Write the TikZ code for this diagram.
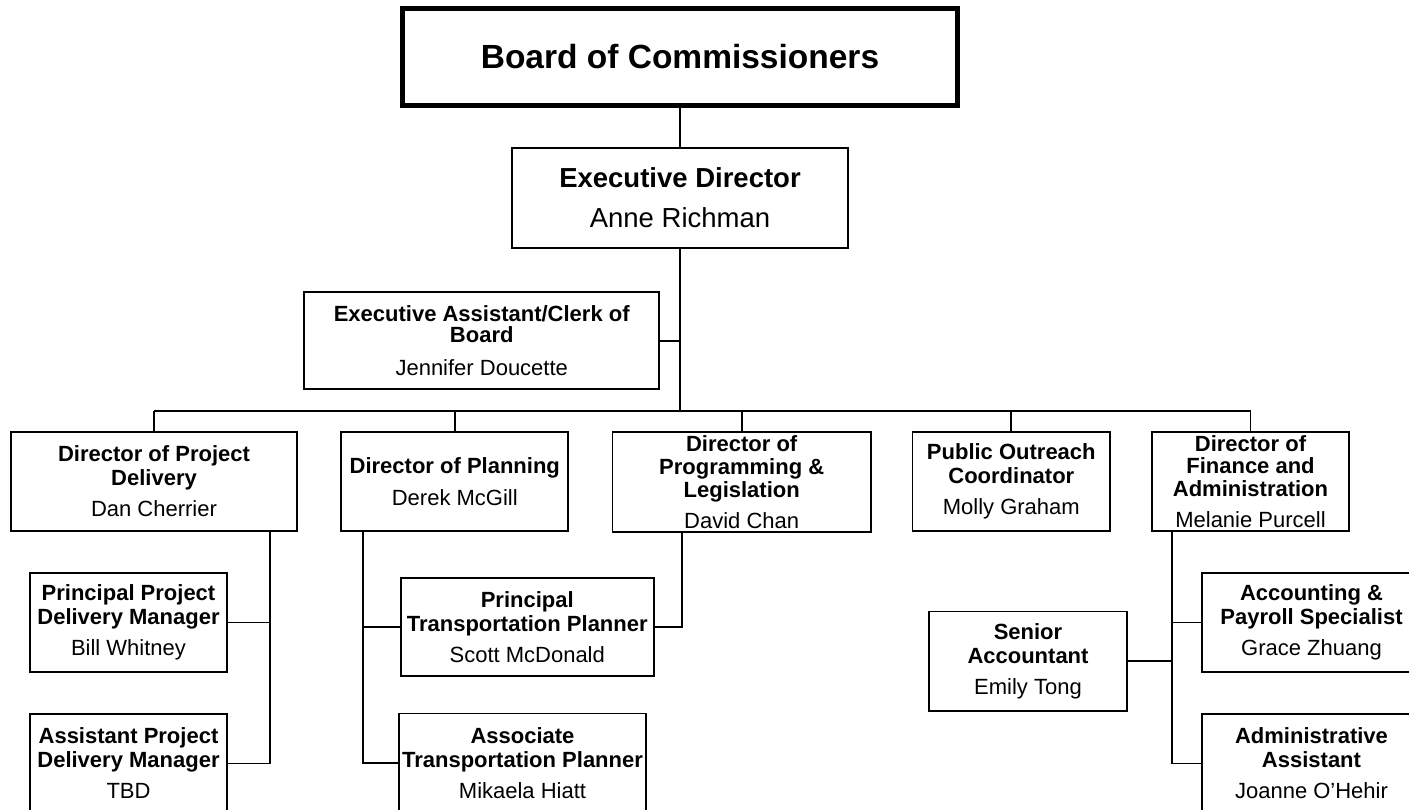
\documentclass[tikz,border=0pt]{standalone}
\usepackage{fontspec}
\setmainfont{Liberation Sans}
\begin{document}
\begin{tikzpicture}[x=1pt,y=-1pt,
  box/.style={draw=black, line width=1.8pt, rectangle, inner sep=0pt, align=center,
    font=\fontsize{22}{24}\selectfont},
  conn/.style={draw=black, line width=1.8pt}]
\fill[white] (0,0) rectangle (1409,810);
\useasboundingbox (0,0) rectangle (1409,810);

% top level
\node[box, line width=5pt, minimum width=555pt, minimum height=97pt,
  font=\fontsize{33.5}{36}\selectfont] (board) at (680,57) {\textbf{Board of Commissioners}};
\node[box, minimum width=336pt, minimum height=100pt,
  font=\fontsize{27.5}{30}\selectfont] (ed) at (680,198) {\textbf{Executive Director}\\[10pt]Anne Richman};
\node[box, minimum width=355pt, minimum height=97pt,
  font=\fontsize{22}{21}\selectfont] (ea) at (481.75,340.85) {\textbf{Executive Assistant/Clerk of}\\\textbf{Board}\\[12pt]Jennifer Doucette};

% directors
\node[box, minimum width=286.5pt, minimum height=99.5pt] (dpd) at (154,481.5)
  {\textbf{Director of Project}\\\textbf{Delivery}\\[7pt]Dan Cherrier};
\node[box, minimum width=227pt, minimum height=99.5pt] (dpl) at (454.8,481.5)
  {\textbf{Director of Planning}\\[8.5pt]Derek McGill};
\node[box, minimum width=258.5pt, minimum height=100.5pt,
  font=\fontsize{22}{22.8}\selectfont] (dpr) at (741.7,482)
  {\textbf{Director of}\\\textbf{Programming \&}\\\textbf{Legislation}\\[8pt]David Chan};
\node[box, minimum width=197.5pt, minimum height=99.5pt] (poc) at (1011.3,481.5)
  {\textbf{Public Outreach}\\\textbf{Coordinator}\\[7pt]Molly Graham};
\node[box, minimum width=197.5pt, minimum height=99.5pt,
  font=\fontsize{22}{22.8}\selectfont] (dfa) at (1250.5,481.5)
  {\textbf{Director of}\\\textbf{Finance and}\\\textbf{Administration}\\[8pt]Melanie Purcell};

% staff
\node[box, minimum width=197.5pt, minimum height=99.5pt] (ppdm) at (128.5,622.5)
  {\textbf{Principal Project}\\\textbf{Delivery Manager}\\[7pt]Bill Whitney};
\node[box, minimum width=197.5pt, minimum height=99.5pt] (apdm) at (128.5,763.5)
  {\textbf{Assistant Project}\\\textbf{Delivery Manager}\\[7pt]TBD};
\node[box, minimum width=253pt, minimum height=98pt] (ptp) at (527.25,627.35)
  {\textbf{Principal}\\\textbf{Transportation Planner}\\[7pt]Scott McDonald};
\node[box, minimum width=247.5pt, minimum height=99pt] (atp) at (522.5,763)
  {\textbf{Associate}\\\textbf{Transportation Planner}\\[7pt]Mikaela Hiatt};
\node[box, minimum width=197.5pt, minimum height=99.5pt] (sa) at (1028,661.2)
  {\textbf{Senior}\\\textbf{Accountant}\\[7pt]Emily Tong};
\node[box, minimum width=219.5pt, minimum height=99.5pt] (aps) at (1311.5,622.5)
  {\textbf{Accounting \&}\\\textbf{Payroll Specialist}\\[7pt]Grace Zhuang};
\node[box, minimum width=219.5pt, minimum height=99.5pt] (aa) at (1311.5,763.5)
  {\textbf{Administrative}\\\textbf{Assistant}\\[7pt]Joanne O'Hehir};

% connector coordinates
\coordinate (busL) at (154,410.7);
\coordinate (busR) at (1250.5,410.7);
\coordinate (busM) at (680,410.7);
\coordinate (v1) at (270,0);
\coordinate (v2) at (363,0);
\coordinate (v3) at (681.7,0);
\coordinate (v4) at (1172,0);

% connectors
\draw[conn] (board.south) -- (ed.north);
\draw[conn] (ed.south) -- (busM);
\draw[conn] (ea.east) -- (ea.east -| busM);
\draw[conn] (busL) -- (busR);
\draw[conn] (busL) -- (dpd.north);
\draw[conn] (dpl.north |- busL) -- (dpl.north);
\draw[conn] (dpr.north |- busL) -- (dpr.north);
\draw[conn] (poc.north |- busL) -- (poc.north);
\draw[conn] (busR) -- (dfa.north);

\draw[conn] (v1 |- dpd.south) |- (apdm.east);
\draw[conn] (ppdm.east) -- (ppdm.east -| v1);

\draw[conn] (v2 |- dpl.south) |- (atp.west);
\draw[conn] (ptp.west) -- (ptp.west -| v2);

\draw[conn] (v3 |- dpr.south) |- (ptp.east);

\draw[conn] (v4 |- dfa.south) |- (aa.west);
\draw[conn] (aps.west) -- (aps.west -| v4);
\draw[conn] (sa.east) -- (sa.east -| v4);
\end{tikzpicture}
\end{document}
